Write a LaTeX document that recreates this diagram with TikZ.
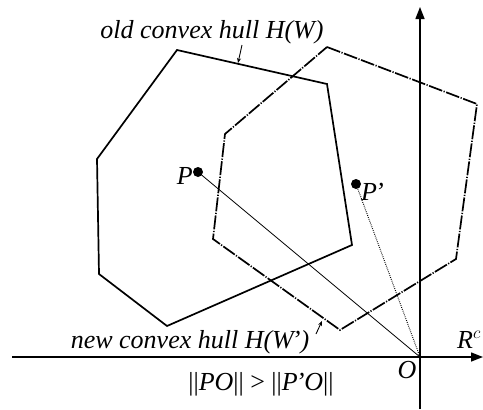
\documentclass[tikz,border=0pt]{standalone}
\usepackage{fontspec}
\setmainfont{Liberation Serif}
\usetikzlibrary{arrows.meta}
\begin{document}
\begin{tikzpicture}[x=1pt,y=-1pt,
  hull/.style={line width=1.7pt,line join=miter},
  newhull/.style={line width=1.7pt,dash pattern=on 14pt off 1.5pt on 1.2pt off 1.5pt},
  axis/.style={line width=1.4pt,-{Triangle[length=12pt,width=9pt]}},
  lbl/.style={font=\fontsize{26}{28}\selectfont\itshape,inner sep=0pt},
  pt/.style={circle,fill=black,inner sep=0pt,minimum size=10pt},
  ptr/.style={line width=0.9pt,-{Stealth[length=5pt,width=4pt]}}]
\useasboundingbox (0,0) rectangle (483,410);
% old hull
\coordinate (a1) at (177,50);
\coordinate (a2) at (327,84);
\coordinate (a3) at (352,245);
\coordinate (a4) at (167,326);
\coordinate (a5) at (99,274);
\coordinate (a6) at (97,159);
\draw[hull] (a1)--(a2)--(a3)--(a4)--(a5)--(a6)--cycle;
% new hull
\coordinate (b1) at (327,47);
\coordinate (b2) at (477,104);
\coordinate (b3) at (456,259);
\coordinate (b4) at (340,330);
\coordinate (b5) at (213,239);
\coordinate (b6) at (225,134);
\draw[newhull] (b1)--(b2)--(b3)--(b4)--(b5)--(b6)--cycle;
% axes
\coordinate (O) at (420,357);
\coordinate (xs) at (12,357);
\coordinate (xe) at (483,357);
\coordinate (ys) at (420,409);
\coordinate (ye) at (420,7);
\draw[axis] (xs)--(xe);
\draw[axis] (ys)--(ye);
% points
\node[pt] (P) at (198,172) {};
\node[pt] (Pp) at (356,184) {};
\draw[line width=0.8pt] (P)--(O);
\draw[line width=1pt,dash pattern=on 0.8pt off 1.2pt] (Pp)--(O);
% labels
\node[lbl,anchor=east] (Pl) at (193,176) {P};
\node[lbl,anchor=west] (Ppl) at (361,192) {P\kern-2pt'};
\node[lbl] (Ol) at (407,370) {O};
\node[lbl,anchor=base west] (Rl) at (457,348) {R$^c$};
\node[lbl,anchor=base] (old) at (212,38) {old convex hull H(W)};
\node[lbl,anchor=base] (new) at (190,348) {new convex hull H(W\kern-2pt')};
\node[font=\fontsize{26}{28}\selectfont,inner sep=0pt,anchor=base] (f) at (261,390) {||\textit{PO}|| > ||\textit{P\kern-2pt'O}||};
% pointers
\coordinate (op) at (242,45);
\coordinate (ot) at (238,63);
\draw[ptr] (op)--(ot);
\coordinate (np) at (316,334);
\coordinate (nt) at (322,321);
\draw[ptr] (np)--(nt);
\end{tikzpicture}
\end{document}
